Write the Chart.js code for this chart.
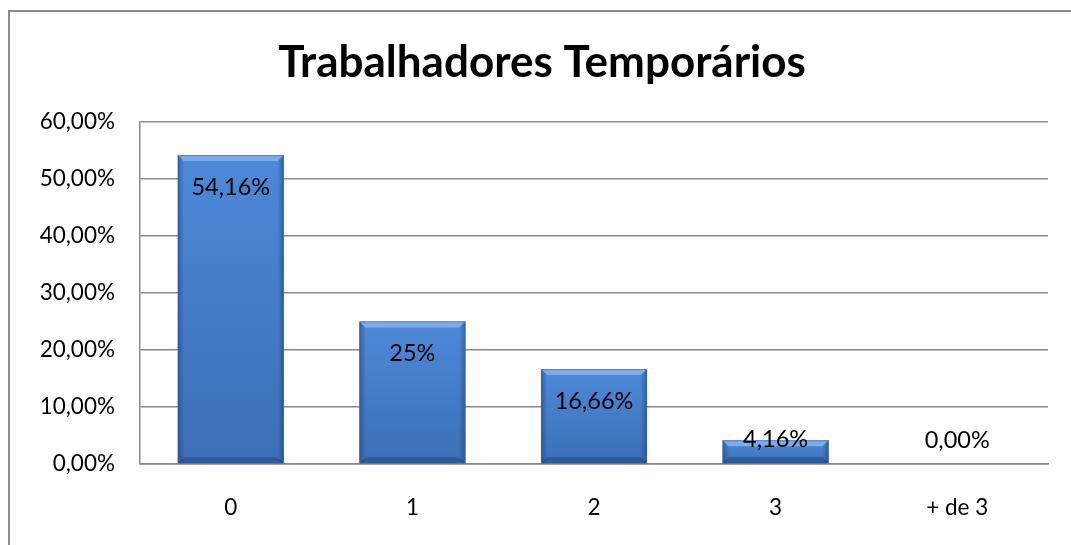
<!DOCTYPE html>
<html>
<head>
<meta charset="utf-8">
<script src="https://cdn.jsdelivr.net/npm/chart.js@4/dist/chart.umd.min.js"></script>
<style>
  html, body { margin: 0; padding: 0; background: #fff; }
  #wrap { width: 1071px; height: 545px; }
</style>
</head>
<body>
<div id="wrap"><canvas id="grafico" width="1071" height="545"></canvas></div>
<script>
var categorias = ['0', '1', '2', '3', '+ de 3'];
var valores = [54.16, 25, 16.66, 4.16, 0];
var rotulos = ['54,16%', '25%', '16,66%', '4,16%', '0,00%'];
var ticksY = ['0,00%', '10,00%', '20,00%', '30,00%', '40,00%', '50,00%', '60,00%'];

var fonte = 'Lato, "Open Sans", sans-serif';

// moldura e barras com relevo, como no Excel
var estiloPlugin = {
    id: 'estilo',
    beforeDraw: function (chart) {
        var ctx = chart.ctx;
        ctx.save();
        ctx.strokeStyle = '#8c8c8c';
        ctx.lineWidth = 2;
        ctx.strokeRect(9, 11, 2000, 2000);
        ctx.restore();
    },
    afterDatasetsDraw: function (chart) {
        var ctx = chart.ctx;
        var meta = chart.getDatasetMeta(0);
        meta.data.forEach(function (bar, i) {
            var l = bar.x - bar.width / 2, r = bar.x + bar.width / 2;
            var t = bar.y, b = bar.base;
            if (b - t < 1) return;
            ctx.save();
            var g = ctx.createLinearGradient(0, t, 0, b);
            g.addColorStop(0, '#4d89d9');
            g.addColorStop(1, '#3c6fb6');
            ctx.fillStyle = g;
            ctx.fillRect(l, t, r - l, b - t);
            var h = ctx.createLinearGradient(l, 0, r, 0);
            h.addColorStop(0, 'rgba(20,50,100,0.45)');
            h.addColorStop(0.06, 'rgba(20,50,100,0)');
            h.addColorStop(0.94, 'rgba(20,50,100,0)');
            h.addColorStop(1, 'rgba(20,50,100,0.45)');
            ctx.fillStyle = h;
            ctx.fillRect(l, t, r - l, b - t);
            var bev = Math.min(6, (b - t) / 3);
            ctx.beginPath();
            ctx.moveTo(l, t); ctx.lineTo(r, t); ctx.lineTo(r - bev, t + bev); ctx.lineTo(l + bev, t + bev);
            ctx.closePath();
            ctx.fillStyle = 'rgba(140,185,240,0.75)';
            ctx.fill();
            ctx.beginPath();
            ctx.moveTo(l, b); ctx.lineTo(r, b); ctx.lineTo(r - bev, b - bev); ctx.lineTo(l + bev, b - bev);
            ctx.closePath();
            ctx.fillStyle = 'rgba(20,45,90,0.35)';
            ctx.fill();
            ctx.strokeStyle = 'rgba(60,100,160,0.6)';
            ctx.lineWidth = 1;
            ctx.strokeRect(l + 0.5, t + 0.5, r - l - 1, b - t - 1);
            ctx.restore();
        });
        // rótulos de dados
        ctx.save();
        ctx.font = '23.5px ' + fonte;
        ctx.fillStyle = '#000';
        ctx.textAlign = 'center';
        ctx.textBaseline = 'middle';
        meta.data.forEach(function (bar, i) {
            var y = Math.min(bar.y + 32, bar.base - 24);
            ctx.fillText(rotulos[i], bar.x, y);
        });
        ctx.restore();
    }
};

var chart = new Chart(document.getElementById('grafico'), {
    type: 'bar',
    data: {
        labels: categorias,
        datasets: [{
            data: valores,
            backgroundColor: 'rgba(0,0,0,0)',
            barPercentage: 0.584,
            categoryPercentage: 1
        }]
    },
    options: {
        responsive: false,
        animation: false,
        layout: { padding: { left: 36, right: 23, top: 0, bottom: 0 } },
        plugins: {
            legend: { display: false },
            tooltip: { enabled: false },
            title: {
                display: true,
                text: 'Trabalhadores Temporários',
                color: '#000',
                font: { family: fonte, size: 44, weight: 'bold', lineHeight: 1.2 },
                padding: { top: 36, bottom: 33 }
            }
        },
        scales: {
            x: {
                grid: { display: false, drawTicks: false },
                border: { display: true, color: '#8a8a8a', width: 1.5 },
                ticks: { color: '#000', font: { family: fonte, size: 22.5 }, padding: 30 },
                afterFit: function (s) { s.height = 81; }
            },
            y: {
                min: 0,
                max: 60,
                ticks: {
                    stepSize: 10,
                    color: '#000',
                    font: { family: fonte, size: 22.5 },
                    padding: 25,
                    callback: function (v, i) { return ticksY[i]; }
                },
                grid: { color: '#8a8a8a', lineWidth: 1.5, drawTicks: false },
                border: { display: true, color: '#8a8a8a', width: 1.5 },
                afterFit: function (s) { s.width = 104; }
            }
        }
    },
    plugins: [estiloPlugin]
});
</script>
</body>
</html>
